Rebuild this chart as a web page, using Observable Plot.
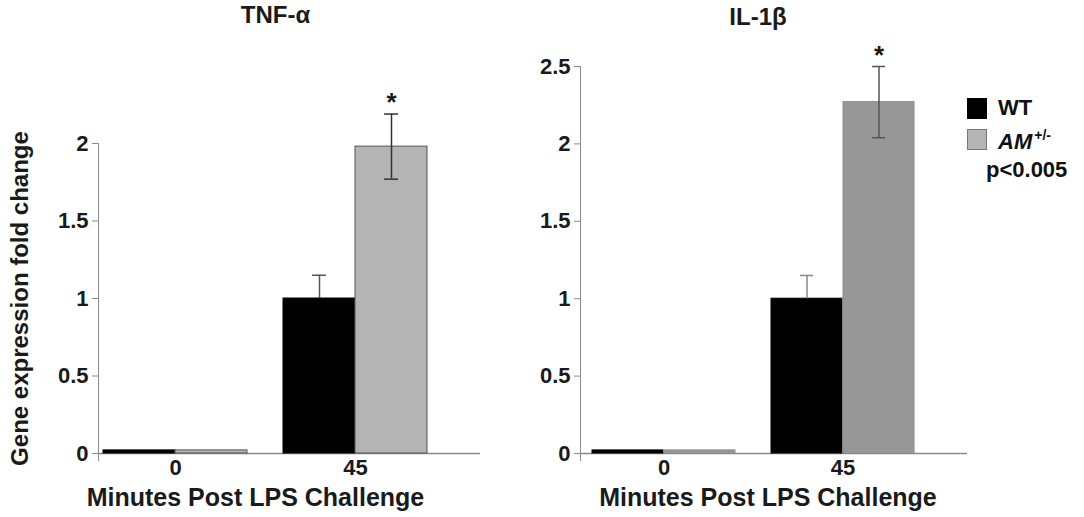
<!DOCTYPE html>
<html>
<head>
<meta charset="utf-8">
<script src="https://cdn.jsdelivr.net/npm/d3@7"></script>
<script src="https://cdn.jsdelivr.net/npm/@observablehq/plot@0.6"></script>
<style>
  html, body { margin: 0; padding: 0; background: #fff; }
  #chart { position: relative; width: 1084px; height: 517px; font-family: "Liberation Sans", Arial, sans-serif; }
  #chart svg { position: absolute; top: 0; background: transparent; }
  #chart svg text { font-weight: bold; fill: #1a1a1a; }
  #chart svg [aria-label="y-axis tick"] { stroke: #8a8a8a; }
  .legend { position: absolute; font-weight: bold; font-size: 22px; color: #111; line-height: 1; }
  .swatch { position: absolute; width: 20px; height: 21px; box-sizing: border-box; }
</style>
</head>
<body>
<div id="chart"></div>
<script>
// Minutes after LPS challenge
const times = ["0", "45"];
const genotypes = ["WT", "AM+/-"];

// TNF-α fold change (mean, error)
const tnfWT = [0.02, 1.0];
const tnfWTerr = [0, 0.15];
const tnfAM = [0.02, 1.98];
const tnfAMerr = [0, 0.21];

// IL-1β fold change (mean, error)
const il1bWT = [0.02, 1.0];
const il1bWTerr = [0, 0.15];
const il1bAM = [0.02, 2.27];
const il1bAMerr = [0, 0.23];

const yTicksTnf = [0, 0.5, 1, 1.5, 2];
const yTicksIl1b = [0, 0.5, 1, 1.5, 2, 2.5];

const xLabel = "Minutes Post LPS Challenge";
const yLabel = "Gene expression fold change";

function rows(wt, wtErr, am, amErr) {
  const out = [];
  times.forEach((t, i) => {
    out.push({time: t, genotype: genotypes[0], value: wt[i], err: wtErr[i]});
    out.push({time: t, genotype: genotypes[1], value: am[i], err: amErr[i]});
  });
  return out;
}

function panel({data, title, yTicks, yMax, left, width, marginLeft, marginRight, marginTop, xRange, amFill, amStroke, errStroke, wtErrStroke, titleDx, titleDy, xLabelDx, showYLabel}) {
  const wt = data.filter(d => d.genotype === genotypes[0]);
  const am = data.filter(d => d.genotype === genotypes[1]);
  const half = 36; // offset from group centre to each bar centre
  const marks = [
    Plot.ruleY([0], {stroke: "#8a8a8a", strokeWidth: 1.5}),
    Plot.frame({anchor: "left", stroke: "#8a8a8a", insetBottom: -7}),
    Plot.axisY({ticks: yTicks, tickSize: 6, tickPadding: 4, fontSize: 22, label: null, tickFormat: d => String(d)}),
    Plot.axisX({tickSize: 0, tickPadding: 6, fontSize: 22, label: null}),
    Plot.barY(wt, {x: "time", y: "value", fill: "#000", stroke: "#000", insetRight: 72}),
    Plot.barY(am, {x: "time", y: "value", fill: amFill, stroke: amStroke, insetLeft: 72}),
    // error bars: upward only on the black bars, both ways on the grey bars
    Plot.ruleX(wt.filter(d => d.err > 0), {x: "time", y1: "value", y2: d => d.value + d.err, dx: -half, stroke: wtErrStroke, strokeWidth: 1.5}),
    Plot.tickY(wt.filter(d => d.err > 0), {x: "time", y: d => d.value + d.err, dx: -half, insetLeft: 65, insetRight: 65, stroke: wtErrStroke, strokeWidth: 1.5}),
    Plot.ruleX(am.filter(d => d.err > 0), {x: "time", y1: d => d.value - d.err, y2: d => d.value + d.err, dx: half, stroke: errStroke, strokeWidth: 1.5}),
    Plot.tickY(am.filter(d => d.err > 0), {x: "time", y: d => d.value + d.err, dx: half, insetLeft: 65, insetRight: 65, stroke: errStroke, strokeWidth: 1.5}),
    Plot.tickY(am.filter(d => d.err > 0), {x: "time", y: d => d.value - d.err, dx: half, insetLeft: 65, insetRight: 65, stroke: errStroke, strokeWidth: 1.5}),
    Plot.text(am.filter(d => d.err > 0), {x: "time", y: d => d.value + d.err, dx: half, dy: -3, text: () => "*", fontSize: 26, lineAnchor: "bottom"}),
    Plot.text([title], {frameAnchor: "top", text: d => d, dx: titleDx, dy: titleDy, fontSize: 24, lineAnchor: "middle"}),
    Plot.text([xLabel], {frameAnchor: "bottom", text: d => d, dx: xLabelDx, dy: 44, fontSize: 25, lineAnchor: "middle"})
  ];
  if (showYLabel) {
    marks.push(Plot.text([yLabel], {frameAnchor: "left", text: d => d, dx: -78, rotate: -90, fontSize: 24, textAnchor: "middle", lineAnchor: "middle"}));
  }
  const svg = Plot.plot({
    width, height: 517,
    marginLeft, marginRight, marginTop, marginBottom: 64,
    style: {fontFamily: "'Liberation Sans', Arial, sans-serif", background: "transparent", overflow: "visible"},
    x: {domain: times, range: xRange, paddingInner: 0.2, paddingOuter: 0.1},
    y: {domain: [0, yMax]},
    marks
  });
  svg.style.left = left + "px";
  return svg;
}

const chart = document.getElementById("chart");

chart.appendChild(panel({
  data: rows(tnfWT, tnfWTerr, tnfAM, tnfAMerr),
  title: "TNF-α", yTicks: yTicksTnf, yMax: 2,
  left: 0, width: 480, marginLeft: 98, marginRight: 0, marginTop: 143,
  xRange: [85, 445], amFill: "#b4b4b4", amStroke: "#555", errStroke: "#333", wtErrStroke: "#555",
  titleDx: -14, titleDy: -128, xLabelDx: -34, showYLabel: true
}));

chart.appendChild(panel({
  data: rows(il1bWT, il1bWTerr, il1bAM, il1bAMerr),
  title: "IL-1β", yTicks: yTicksIl1b, yMax: 2.5,
  left: 480, width: 604, marginLeft: 100, marginRight: 117, marginTop: 66,
  xRange: [94, 452], amFill: "#979797", amStroke: "#8c8c8c", errStroke: "#555", wtErrStroke: "#888",
  titleDx: -16, titleDy: -49, xLabelDx: -6, showYLabel: false
}));

// Legend
const legend = [
  {label: "WT", fill: "#000", border: "#000", top: 98},
  {label: "AM", sup: "+/-", fill: "#b4b4b4", border: "#777", top: 129}
];
legend.forEach(item => {
  const sw = document.createElement("div");
  sw.className = "swatch";
  sw.style.left = "967px";
  sw.style.top = item.top + "px";
  sw.style.background = item.fill;
  sw.style.border = "1px solid " + item.border;
  chart.appendChild(sw);
  const lab = document.createElement("div");
  lab.className = "legend";
  lab.style.left = "998px";
  lab.style.top = (item.top - 1) + "px";
  if (item.sup) {
    lab.innerHTML = `<i>${item.label}</i><sup style="font-size:14px;vertical-align:9px;margin-left:2px">${item.sup}</sup>`;
  } else {
    lab.textContent = item.label;
  }
  chart.appendChild(lab);
});
const note = document.createElement("div");
note.className = "legend";
note.style.left = "986px";
note.style.top = "159px";
note.textContent = "p<0.005";
chart.appendChild(note);
</script>
</body>
</html>
